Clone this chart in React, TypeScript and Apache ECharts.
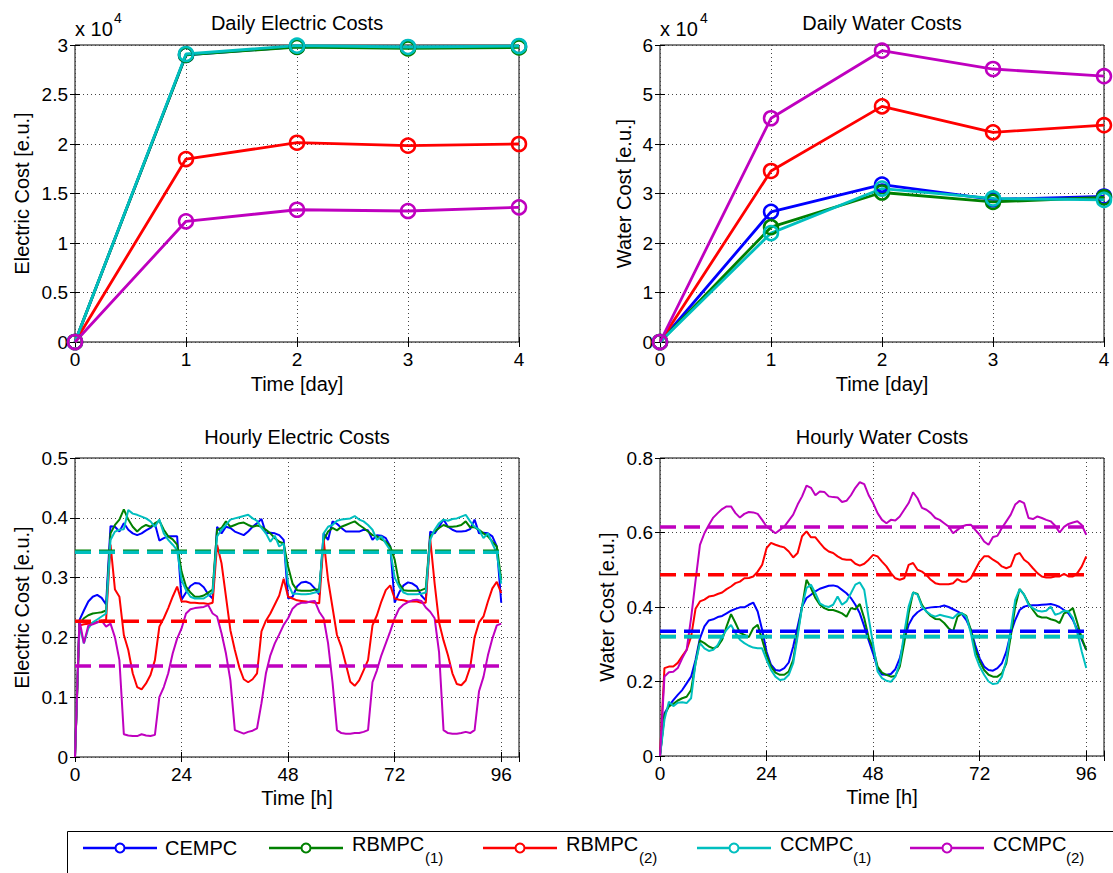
import React, { useEffect, useRef } from "react";
import * as echarts from "echarts";

const FONT = "'Liberation Sans', Arial, Helvetica, sans-serif";

const seriesNames = ["CEMPC", "RBMPC(1)", "RBMPC(2)", "CCMPC(1)", "CCMPC(2)"];
const legendMain = ["CEMPC", "RBMPC", "RBMPC", "CCMPC", "CCMPC"];
const legendSub = ["", "(1)", "(2)", "(1)", "(2)"];
const colors = ["#0000ff", "#008000", "#ff0000", "#00bfbf", "#bf00bf"];

// Daily totals (x: day index)
const days = [0, 1, 2, 3, 4];
const dailyElecCEMPC = [0, 29000, 29850, 29750, 29850];
const dailyElecRBMPC1 = [0, 29000, 29800, 29650, 29750];
const dailyElecRBMPC2 = [0, 18480, 20130, 19830, 20000];
const dailyElecCCMPC1 = [0, 29090, 29930, 29800, 29900];
const dailyElecCCMPC2 = [0, 12190, 13360, 13230, 13600];

const dailyWaterCEMPC = [0, 26300, 31800, 28800, 29400];
const dailyWaterRBMPC1 = [0, 23200, 30200, 28300, 29200];
const dailyWaterRBMPC2 = [0, 34550, 47600, 42360, 43800];
const dailyWaterCCMPC1 = [0, 22000, 31000, 29000, 28700];
const dailyWaterCCMPC2 = [0, 45200, 58850, 55150, 53700];

// Hourly values, h = 0..96
const hours = Array.from({ length: 97 }, (_, i) => i);

const hourlyElecCEMPC = [
  0, 0.229, 0.245, 0.26, 0.268, 0.271, 0.266, 0.255,
  0.386, 0.385, 0.377, 0.391, 0.38, 0.374, 0.371, 0.374, 0.379, 0.383, 0.39, 0.362, 0.366, 0.369, 0.369, 0.369,
  0.263, 0.275, 0.286, 0.291, 0.29, 0.284, 0.272, 0.265,
  0.385, 0.374, 0.385, 0.383, 0.377, 0.374, 0.371, 0.377, 0.385, 0.391, 0.398, 0.374, 0.375, 0.374, 0.371, 0.363,
  0.265, 0.268, 0.285, 0.292, 0.293, 0.29, 0.282, 0.272,
  0.374, 0.363, 0.394, 0.39, 0.383, 0.377, 0.377, 0.377, 0.377, 0.38, 0.379, 0.363, 0.371, 0.37, 0.366, 0.352,
  0.258, 0.275, 0.287, 0.292, 0.29, 0.285, 0.27, 0.262,
  0.377, 0.374, 0.385, 0.397, 0.385, 0.38, 0.377, 0.377, 0.378, 0.381, 0.397, 0.374, 0.375, 0.374, 0.369, 0.352,
  0.258,
];
const hourlyElecRBMPC1 = [
  0, 0.223, 0.232, 0.237, 0.24, 0.241, 0.242, 0.245,
  0.374, 0.388, 0.397, 0.414, 0.397, 0.385, 0.377, 0.384, 0.388, 0.385, 0.391, 0.395, 0.38, 0.369, 0.364, 0.355,
  0.31, 0.285, 0.275, 0.268, 0.268, 0.27, 0.275, 0.28,
  0.38, 0.383, 0.394, 0.385, 0.388, 0.391, 0.392, 0.388, 0.385, 0.387, 0.385, 0.38, 0.374, 0.366, 0.36, 0.357,
  0.318, 0.29, 0.279, 0.278, 0.278, 0.278, 0.28, 0.28,
  0.363, 0.377, 0.383, 0.379, 0.385, 0.388, 0.391, 0.394, 0.388, 0.383, 0.377, 0.371, 0.369, 0.364, 0.36, 0.352,
  0.33, 0.29, 0.279, 0.278, 0.278, 0.278, 0.279, 0.282,
  0.369, 0.377, 0.383, 0.388, 0.385, 0.385, 0.386, 0.388, 0.394, 0.384, 0.384, 0.38, 0.374, 0.369, 0.36, 0.352,
  0.296,
];
const hourlyElecRBMPC2 = [
  0, 0.22, 0.222, 0.223, 0.224, 0.226, 0.228, 0.229,
  0.355, 0.28, 0.268, 0.204, 0.179, 0.14, 0.117, 0.113, 0.123, 0.137, 0.162, 0.218, 0.232, 0.249, 0.268, 0.285,
  0.26, 0.26, 0.258, 0.258, 0.257, 0.257, 0.256, 0.258,
  0.355, 0.324, 0.268, 0.212, 0.179, 0.15, 0.13, 0.125, 0.13, 0.14, 0.21, 0.228, 0.24, 0.255, 0.27, 0.298,
  0.268, 0.265, 0.262, 0.261, 0.26, 0.259, 0.258, 0.257,
  0.363, 0.296, 0.25, 0.204, 0.184, 0.155, 0.126, 0.119, 0.128, 0.145, 0.162, 0.22, 0.237, 0.26, 0.279, 0.287,
  0.265, 0.263, 0.262, 0.26, 0.26, 0.26, 0.258, 0.258,
  0.365, 0.29, 0.225, 0.195, 0.17, 0.14, 0.122, 0.12, 0.128, 0.15, 0.2, 0.225, 0.235, 0.26, 0.282, 0.293,
  0.274,
];
const hourlyElecCCMPC1 = [
  0, 0.22, 0.19, 0.215, 0.225, 0.23, 0.235, 0.24,
  0.363, 0.377, 0.38, 0.381, 0.413, 0.407, 0.405, 0.402, 0.399, 0.394, 0.385, 0.397, 0.374, 0.363, 0.355, 0.346,
  0.296, 0.279, 0.268, 0.265, 0.265, 0.265, 0.27, 0.275,
  0.369, 0.38, 0.388, 0.397, 0.399, 0.401, 0.403, 0.405, 0.399, 0.395, 0.383, 0.374, 0.36, 0.37, 0.352, 0.357,
  0.29, 0.273, 0.273, 0.272, 0.272, 0.273, 0.275, 0.276,
  0.374, 0.385, 0.388, 0.395, 0.397, 0.398, 0.399, 0.403, 0.397, 0.394, 0.388, 0.38, 0.363, 0.369, 0.357, 0.346,
  0.3, 0.285, 0.275, 0.272, 0.272, 0.272, 0.273, 0.275,
  0.363, 0.38, 0.391, 0.397, 0.395, 0.398, 0.399, 0.402, 0.405, 0.394, 0.385, 0.38, 0.366, 0.374, 0.357, 0.341,
  0.29,
];
const hourlyElecCCMPC2 = [
  0, 0.229, 0.19, 0.22, 0.222, 0.225, 0.228, 0.218,
  0.223, 0.2, 0.162, 0.038, 0.036, 0.035, 0.035, 0.038, 0.036, 0.035, 0.037, 0.1, 0.117, 0.14, 0.173, 0.198,
  0.215, 0.24, 0.247, 0.249, 0.25, 0.251, 0.254, 0.24,
  0.235, 0.207, 0.173, 0.128, 0.045, 0.042, 0.039, 0.042, 0.044, 0.048, 0.09, 0.14, 0.17, 0.19, 0.205, 0.221,
  0.232, 0.248, 0.255, 0.258, 0.258, 0.26, 0.261, 0.243,
  0.232, 0.19, 0.125, 0.045, 0.04, 0.039, 0.039, 0.04, 0.04, 0.042, 0.045, 0.125, 0.145, 0.17, 0.19, 0.21,
  0.232, 0.248, 0.255, 0.259, 0.262, 0.263, 0.261, 0.25,
  0.243, 0.232, 0.175, 0.045, 0.04, 0.039, 0.039, 0.04, 0.042, 0.04, 0.045, 0.11, 0.134, 0.17, 0.198, 0.22,
  0.223,
];

const hourlyWaterCEMPC = [
  0, 0.115, 0.134, 0.15, 0.164, 0.177, 0.195, 0.213,
  0.258, 0.316, 0.348, 0.364, 0.367, 0.373, 0.376, 0.383,
  0.39, 0.395, 0.399, 0.399, 0.406, 0.412, 0.388, 0.339,
  0.28, 0.245, 0.231, 0.229, 0.236, 0.251, 0.294, 0.348,
  0.401, 0.424, 0.433, 0.442, 0.449, 0.453, 0.457, 0.458,
  0.455, 0.446, 0.437, 0.424, 0.406, 0.383, 0.348, 0.31,
  0.275, 0.236, 0.219, 0.218, 0.22, 0.233, 0.262, 0.312,
  0.352, 0.374, 0.386, 0.394, 0.397, 0.399, 0.4, 0.401,
  0.404, 0.4, 0.394, 0.388, 0.381, 0.365, 0.339, 0.298,
  0.262, 0.24, 0.231, 0.229, 0.236, 0.249, 0.28, 0.33,
  0.365, 0.392, 0.401, 0.404, 0.405, 0.405, 0.406, 0.407,
  0.408, 0.405, 0.4, 0.392, 0.383, 0.365, 0.339, 0.312,
  0.285,
];
const hourlyWaterRBMPC1 = [
  0, 0.11, 0.133, 0.14, 0.149, 0.155, 0.159, 0.177,
  0.249, 0.31, 0.303, 0.294, 0.289, 0.294, 0.312, 0.348,
  0.381, 0.357, 0.331, 0.325, 0.319, 0.343, 0.352, 0.312,
  0.271, 0.24, 0.224, 0.218, 0.218, 0.227, 0.258, 0.33,
  0.401, 0.473, 0.451, 0.424, 0.406, 0.397, 0.392, 0.392,
  0.388, 0.383, 0.374, 0.397, 0.394, 0.408, 0.37, 0.318,
  0.29, 0.24, 0.224, 0.218, 0.213, 0.215, 0.24, 0.303,
  0.383, 0.439, 0.435, 0.406, 0.388, 0.376, 0.368, 0.367,
  0.357, 0.343, 0.334, 0.374, 0.383, 0.376, 0.339, 0.285,
  0.254, 0.231, 0.218, 0.213, 0.213, 0.222, 0.249, 0.321,
  0.401, 0.448, 0.433, 0.41, 0.392, 0.376, 0.372, 0.372,
  0.367, 0.364, 0.357, 0.383, 0.388, 0.397, 0.357, 0.316,
  0.285,
];
const hourlyWaterRBMPC2 = [
  0, 0.236, 0.24, 0.24, 0.25, 0.268, 0.285, 0.32,
  0.395, 0.415, 0.42, 0.428, 0.43, 0.435, 0.439, 0.448,
  0.455, 0.464, 0.468, 0.477, 0.478, 0.482, 0.495, 0.513,
  0.558, 0.572, 0.567, 0.563, 0.56, 0.549, 0.533, 0.545,
  0.59, 0.603, 0.587, 0.587, 0.572, 0.558, 0.549, 0.545,
  0.536, 0.529, 0.527, 0.527, 0.516, 0.511, 0.516, 0.527,
  0.54, 0.536, 0.522, 0.509, 0.491, 0.477, 0.473, 0.477,
  0.513, 0.518, 0.5, 0.495, 0.486, 0.473, 0.464, 0.461,
  0.461, 0.461, 0.464, 0.475, 0.468, 0.468, 0.477, 0.5,
  0.522, 0.536, 0.536, 0.527, 0.52, 0.509, 0.504, 0.509,
  0.54, 0.545, 0.527, 0.518, 0.504, 0.491, 0.482, 0.479,
  0.479, 0.482, 0.482, 0.489, 0.482, 0.482, 0.491, 0.509,
  0.536,
];
const hourlyWaterCCMPC1 = [
  0, 0.097, 0.146, 0.134, 0.143, 0.144, 0.142, 0.155,
  0.249, 0.303, 0.289, 0.282, 0.285, 0.298, 0.321, 0.339,
  0.352, 0.33, 0.312, 0.303, 0.296, 0.291, 0.289, 0.289,
  0.258, 0.231, 0.213, 0.204, 0.206, 0.218, 0.249, 0.321,
  0.401, 0.451, 0.46, 0.437, 0.41, 0.403, 0.4, 0.406,
  0.428, 0.406, 0.415, 0.437, 0.46, 0.466, 0.446, 0.37,
  0.3, 0.227, 0.209, 0.202, 0.199, 0.213, 0.249, 0.33,
  0.401, 0.439, 0.433, 0.401, 0.388, 0.379, 0.374, 0.379,
  0.376, 0.373, 0.37, 0.381, 0.383, 0.374, 0.33, 0.271,
  0.24, 0.218, 0.2, 0.193, 0.195, 0.213, 0.258, 0.339,
  0.419, 0.448, 0.433, 0.406, 0.397, 0.39, 0.388, 0.39,
  0.401, 0.379, 0.383, 0.39, 0.388, 0.37, 0.33, 0.28,
  0.236,
];
const hourlyWaterCCMPC2 = [
  0, 0.213, 0.225, 0.226, 0.236, 0.262, 0.285, 0.37,
  0.47, 0.567, 0.598, 0.62, 0.64, 0.652, 0.663, 0.67,
  0.67, 0.652, 0.64, 0.65, 0.655, 0.654, 0.65, 0.634,
  0.616, 0.607, 0.598, 0.607, 0.616, 0.632, 0.648, 0.675,
  0.697, 0.726, 0.72, 0.7, 0.71, 0.709, 0.697, 0.695,
  0.694, 0.682, 0.685, 0.7, 0.72, 0.735, 0.73, 0.7,
  0.679, 0.652, 0.634, 0.625, 0.634, 0.632, 0.643, 0.661,
  0.679, 0.708, 0.692, 0.666, 0.661, 0.652, 0.639, 0.634,
  0.625, 0.616, 0.598, 0.607, 0.616, 0.62, 0.621, 0.607,
  0.594, 0.576, 0.567, 0.588, 0.591, 0.612, 0.63, 0.648,
  0.675, 0.685, 0.679, 0.639, 0.636, 0.643, 0.639, 0.634,
  0.63, 0.618, 0.6, 0.615, 0.623, 0.627, 0.63, 0.62,
  0.594,
];

// Average (dashed) levels
const avgSpan = [0, 96];
const avgElec = [0.343, 0.344, 0.2268, 0.3425, 0.152];
const avgWater = [0.335, 0.321, 0.4865, 0.32, 0.6146];

const dailyElec = [dailyElecCEMPC, dailyElecRBMPC1, dailyElecRBMPC2, dailyElecCCMPC1, dailyElecCCMPC2];
const dailyWater = [dailyWaterCEMPC, dailyWaterRBMPC1, dailyWaterRBMPC2, dailyWaterCCMPC1, dailyWaterCCMPC2];
const hourlyElec = [hourlyElecCEMPC, hourlyElecRBMPC1, hourlyElecRBMPC2, hourlyElecCCMPC1, hourlyElecCCMPC2];
const hourlyWater = [hourlyWaterCEMPC, hourlyWaterRBMPC1, hourlyWaterRBMPC2, hourlyWaterCCMPC1, hourlyWaterCCMPC2];

const grids = [
  { left: 75, top: 45, width: 444, height: 297 },
  { left: 660, top: 45, width: 444, height: 297 },
  { left: 75, top: 458, width: 444, height: 299 },
  { left: 660, top: 458, width: 444, height: 298 },
];

const gridLine = { show: true, lineStyle: { color: "#444", type: [1, 3], width: 1 } };
const tickStyle = { show: true, inside: true, length: 5, lineStyle: { color: "#000", width: 1 } };
const labelFont = { fontFamily: FONT, fontSize: 19, color: "#000" };
const nameFont = { fontFamily: FONT, fontSize: 20, color: "#000" };

function buildAxes(g: number, xr: any, yr: any) {
  const xMain = {
    type: "value", gridIndex: g, position: "bottom", min: xr.min, max: xr.max, interval: xr.interval,
    name: xr.name, nameLocation: "middle", nameGap: xr.nameGap, nameTextStyle: nameFont,
    axisLine: { show: false }, axisTick: tickStyle,
    axisLabel: { ...labelFont, margin: 8, formatter: xr.fmt },
    splitLine: gridLine,
  };
  const xTop = {
    type: "value", gridIndex: g, position: "top", min: xr.min, max: xr.max, interval: xr.interval,
    axisLine: { show: false }, axisTick: tickStyle, axisLabel: { show: false }, splitLine: { show: false },
  };
  const yMain = {
    type: "value", gridIndex: g, position: "left", min: yr.min, max: yr.max, interval: yr.interval,
    name: yr.name, nameLocation: "middle", nameGap: yr.nameGap, nameTextStyle: nameFont,
    axisLine: { show: false }, axisTick: tickStyle,
    axisLabel: { ...labelFont, margin: 7, formatter: yr.fmt },
    splitLine: gridLine,
  };
  const yRight = {
    type: "value", gridIndex: g, position: "right", min: yr.min, max: yr.max, interval: yr.interval,
    axisLine: { show: false }, axisTick: tickStyle, axisLabel: { show: false }, splitLine: { show: false },
  };
  return { x: [xMain, xTop], y: [yMain, yRight] };
}

function buildOption() {
  const hourFmt = (v: number) => (v > 96 ? "" : String(v));
  const dayFmt = (v: number) => String(v);
  const axes = [
    buildAxes(0, { min: 0, max: 4, interval: 1, name: "Time [day]", nameGap: 32, fmt: dayFmt },
      { min: 0, max: 30000, interval: 5000, name: "Electric Cost [e.u.]", nameGap: 43, fmt: (v: number) => String(v / 10000) }),
    buildAxes(1, { min: 0, max: 4, interval: 1, name: "Time [day]", nameGap: 32, fmt: dayFmt },
      { min: 0, max: 60000, interval: 10000, name: "Water Cost [e.u.]", nameGap: 26, fmt: (v: number) => String(v / 10000) }),
    buildAxes(2, { min: 0, max: 100, interval: 24, name: "Time [h]", nameGap: 31, fmt: hourFmt },
      { min: 0, max: 0.5, interval: 0.1, name: "Electric Cost [e.u.]", nameGap: 43, fmt: (v: number) => String(+v.toFixed(1)) }),
    buildAxes(3, { min: 0, max: 100, interval: 24, name: "Time [h]", nameGap: 31, fmt: hourFmt },
      { min: 0, max: 0.8, interval: 0.2, name: "Water Cost [e.u.]", nameGap: 43, fmt: (v: number) => String(+v.toFixed(1)) }),
  ];
  const xAxis: any[] = [];
  const yAxis: any[] = [];
  axes.forEach((a) => { xAxis.push(...a.x); yAxis.push(...a.y); });

  const series: any[] = [];
  const addDaily = (g: number, sets: number[][]) => {
    sets.forEach((arr, i) => {
      series.push({
        type: "line", name: seriesNames[i], xAxisIndex: 2 * g, yAxisIndex: 2 * g,
        data: days.map((d, k) => [d, arr[k]]),
        symbol: "circle", symbolSize: 14, showSymbol: true,
        lineStyle: { color: colors[i], width: 2.8 },
        itemStyle: { color: "rgba(0,0,0,0)", borderColor: colors[i], borderWidth: 2.5 },
        emphasis: { disabled: true }, silent: true,
      });
    });
  };
  const addHourly = (g: number, sets: number[][], avgs: number[]) => {
    sets.forEach((arr, i) => {
      series.push({
        type: "line", name: seriesNames[i], xAxisIndex: 2 * g, yAxisIndex: 2 * g,
        data: hours.map((h, k) => [h, arr[k]]),
        symbol: "none", showSymbol: false,
        lineStyle: { color: colors[i], width: 2 },
        emphasis: { disabled: true }, silent: true,
      });
    });
    avgs.forEach((v, i) => {
      series.push({
        type: "line", name: seriesNames[i] + " avg", xAxisIndex: 2 * g, yAxisIndex: 2 * g,
        data: avgSpan.map((h) => [h, v]),
        symbol: "none", showSymbol: false,
        lineStyle: { color: colors[i], width: 3.5, type: [16, 8] },
        emphasis: { disabled: true }, silent: true,
      });
    });
  };
  addDaily(0, dailyElec);
  addDaily(1, dailyWater);
  addHourly(2, hourlyElec, avgElec);
  addHourly(3, hourlyWater, avgWater);

  const txt = (text: string, x: number, y: number, size: number, align = "left") => ({
    type: "text", x, y, silent: true, z: 200,
    style: {
      text, fill: "#000", font: `${size}px ${FONT}`, fontSize: size, fontFamily: FONT,
      textAlign: align, align, textVerticalAlign: "middle", verticalAlign: "middle",
    },
  });

  const graphic: any[] = [
    txt("Daily Electric Costs", 297, 23, 20, "center"),
    txt("Daily Water Costs", 882, 23, 20, "center"),
    txt("Hourly Electric Costs", 297, 437, 20, "center"),
    txt("Hourly Water Costs", 882, 437, 20, "center"),
    txt("x 10", 75, 29, 20),
    txt("4", 114, 18, 14),
    txt("x 10", 660, 29, 20),
    txt("4", 700, 18, 14),
    {
      type: "rect", silent: true, z: 150,
      shape: { x: 67.5, y: 831.5, width: 1100, height: 100 },
      style: { fill: "#fff", stroke: "#000", lineWidth: 1 },
    },
  ];
  const legendStarts = [83, 269, 483, 697, 910];
  legendStarts.forEach((L, i) => {
    graphic.push({
      type: "line", silent: true, z: 160,
      shape: { x1: L, y1: 848, x2: L + 74, y2: 848 },
      style: { stroke: colors[i], lineWidth: 2.5 },
    });
    graphic.push({
      type: "circle", silent: true, z: 161,
      shape: { cx: L + 37, cy: 848, r: 4.5 },
      style: { fill: "#fff", stroke: colors[i], lineWidth: 2 },
    });
    if (legendSub[i]) {
      graphic.push(txt(legendMain[i], L + 83, 844, 20));
      graphic.push(txt(legendSub[i], L + 156, 857.5, 15));
    } else {
      graphic.push(txt(legendMain[i], L + 82, 848, 20));
    }
  });

  return {
    animation: false,
    backgroundColor: "#fff",
    grid: grids.map((g) => ({ ...g, show: true, borderColor: "#000", borderWidth: 1, backgroundColor: "transparent", containLabel: false })),
    xAxis,
    yAxis,
    series,
    graphic,
  };
}

export default function App() {
  const ref = useRef<HTMLDivElement>(null);
  useEffect(() => {
    if (!ref.current) return;
    const chart = echarts.init(ref.current, undefined, { renderer: "svg" });
    chart.setOption(buildOption() as any);
    return () => chart.dispose();
  }, []);
  return (
    <div
      ref={ref}
      style={{ position: "fixed", left: 0, top: 0, width: 1113, height: 873, background: "#fff" }}
    />
  );
}
